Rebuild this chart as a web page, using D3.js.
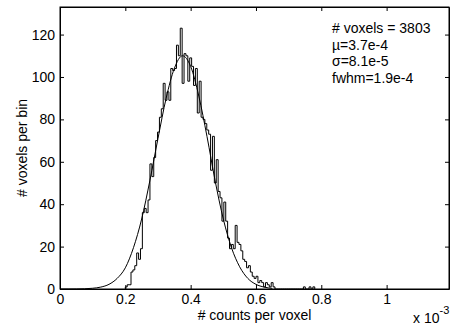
<!DOCTYPE html>
<html>
<head>
<meta charset="utf-8">
<script src="https://cdn.jsdelivr.net/npm/d3@7"></script>
<style>
  body { margin: 0; background: #fff; }
  text { font-family: "Liberation Sans", Arial, Helvetica, sans-serif; font-size: 14px; fill: #000; }
  .axis path, .axis line { stroke: #000; }
</style>
</head>
<body>
<div id="chart"></div>
<script>
// histogram of counts per voxel (x in units of 1e-3)
const binStart = 0.2;
const binWidth = 0.0058;
const binCounts = [
  1, 2, 2, 8, 9, 11, 17, 14, 19, 36,
  38, 36, 42, 59, 53, 62, 70, 74, 81, 85,
  97, 89, 93, 89, 104, 103, 104, 115, 110, 123,
  97, 111, 110, 98, 109, 105, 96, 104, 83, 98,
  81, 80, 78, 75, 73, 56, 72, 50, 61, 46,
  43, 32, 41, 32, 24, 19, 21, 19, 30, 22,
  21, 18, 14, 13, 10, 11, 8, 6, 5, 6,
  3, 4, 3, 1, 3, 2, 1, 3, 1, 0,
  0, 0, 0, 0, 0, 0, 0, 0, 0, 0,
  0, 0, 0, 0, 1, 0, 0, 1, 0, 1
];

// fitted gaussian
const fitX = [0, 0.025, 0.05, 0.075, 0.1, 0.125, 0.15, 0.175, 0.2, 0.225, 0.25, 0.275,
  0.3, 0.325, 0.35, 0.375, 0.4, 0.425, 0.45, 0.475, 0.5, 0.525, 0.55, 0.575, 0.6, 0.625, 0.65];
const fitY = [0, 0, 0.02, 0.1, 0.35, 0.9, 2.2, 5, 10, 19.5, 33, 51,
  71, 90, 104, 110, 105, 91, 72, 51, 33, 19.5, 10.5, 5, 2.2, 0.9, 0.3];

const xTicks = [0, 0.2, 0.4, 0.6, 0.8, 1];
const yTicks = [0, 20, 40, 60, 80, 100, 120];
const statLines = ['# voxels = 3803', '\u00b5=3.7e-4', '\u03c3=8.1e-5', 'fwhm=1.9e-4'];

const config = {
  containerWidth: 453,
  containerHeight: 331,
  margin: { top: 7, right: 4, bottom: 42, left: 60 }
};
const width = config.containerWidth - config.margin.left - config.margin.right;
const height = config.containerHeight - config.margin.top - config.margin.bottom;

const svg = d3.select('#chart').append('svg')
  .attr('width', config.containerWidth)
  .attr('height', config.containerHeight);

const chart = svg.append('g')
  .attr('transform', `translate(${config.margin.left},${config.margin.top})`);

const xScale = d3.scaleLinear().domain([0, 1.191]).range([0, width]);
const yScale = d3.scaleLinear().domain([0, 133]).range([height, 0]);

// clip so the lines stay in the box
chart.append('defs').append('clipPath').attr('id', 'plot-clip')
  .append('rect').attr('width', width).attr('height', height);

const plot = chart.append('g').attr('clip-path', 'url(#plot-clip)');

// histogram drawn as stairs
const stairPts = [[binStart, 0]];
binCounts.forEach((c, i) => stairPts.push([binStart + i * binWidth, c]));
stairPts.push([binStart + binCounts.length * binWidth, 0]);

plot.append('path')
  .datum(stairPts)
  .attr('fill', 'none')
  .attr('stroke', '#000')
  .attr('stroke-width', 1)
  .attr('d', d3.line()
    .x(d => xScale(d[0]))
    .y(d => yScale(d[1]))
    .curve(d3.curveStepAfter));

// gaussian fit
plot.append('path')
  .datum(fitX.map((x, i) => [x, fitY[i]]))
  .attr('fill', 'none')
  .attr('stroke', '#000')
  .attr('stroke-width', 1)
  .attr('d', d3.line()
    .x(d => xScale(d[0]))
    .y(d => yScale(d[1]))
    .curve(d3.curveMonotoneX));

// axes, matlab style: ticks inward on all four sides
const tickLen = 4;
chart.append('g').attr('class', 'axis')
  .attr('transform', `translate(0,${height})`)
  .call(d3.axisBottom(xScale).tickValues(xTicks).tickSizeInner(-tickLen).tickSizeOuter(0)
    .tickFormat(d3.format('')))
  .call(g => g.selectAll('text').attr('dy', null).attr('y', 15));

chart.append('g').attr('class', 'axis')
  .call(d3.axisTop(xScale).tickValues(xTicks).tickSizeInner(-tickLen).tickSizeOuter(0).tickFormat(''));

chart.append('g').attr('class', 'axis')
  .call(d3.axisLeft(yScale).tickValues(yTicks).tickSizeInner(-tickLen).tickSizeOuter(0))
  .call(g => g.selectAll('text').attr('x', -5));

chart.append('g').attr('class', 'axis')
  .attr('transform', `translate(${width},0)`)
  .call(d3.axisRight(yScale).tickValues(yTicks).tickSizeInner(-tickLen).tickSizeOuter(0).tickFormat(''));

svg.selectAll('.axis text')
  .style('font-family', '"Liberation Sans", Arial, sans-serif')
  .style('font-size', '14px');

// box
chart.append('rect')
  .attr('x', 0).attr('y', 0)
  .attr('width', width).attr('height', height)
  .attr('fill', 'none').attr('stroke', '#000').attr('stroke-width', 1);

// stats text
chart.selectAll('.stat')
  .data(statLines)
  .join('text')
  .attr('class', 'stat')
  .attr('x', 272)
  .attr('y', (d, i) => 26 + i * 16.7)
  .text(d => d);

// axis labels
svg.append('text')
  .attr('x', config.margin.left + width / 2)
  .attr('y', 320)
  .attr('text-anchor', 'middle')
  .text('# counts per voxel');

svg.append('text')
  .attr('transform', `translate(27,${config.margin.top + height / 2}) rotate(-90)`)
  .attr('text-anchor', 'middle')
  .text('# voxels per bin');

const expo = svg.append('text').attr('x', 413).attr('y', 323);
expo.append('tspan').text('x 10');
expo.append('tspan').attr('dy', -9).style('font-size', '11px').text('-3');
</script>
</body>
</html>
